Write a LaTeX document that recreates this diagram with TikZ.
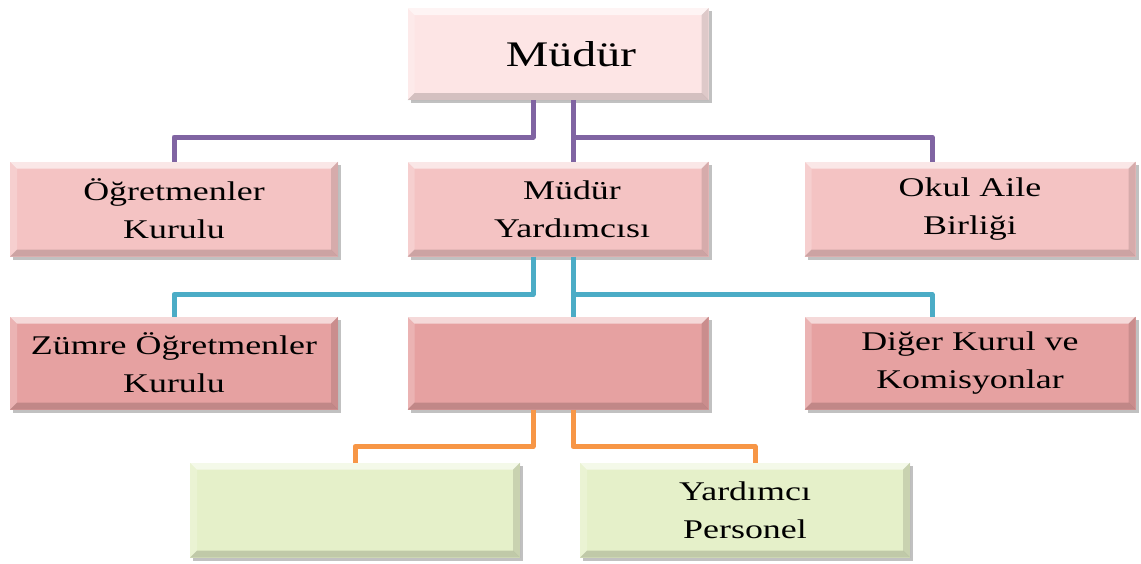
\documentclass[tikz,border=0pt]{standalone}
\usepackage{fontspec}
\setmainfont{Liberation Serif}[FakeStretch=1.33]
\usetikzlibrary{shadows}
\definecolor{cTop}{HTML}{FDE5E5}
\definecolor{cMid}{HTML}{F4C3C3}
\definecolor{cLow}{HTML}{E6A1A1}
\definecolor{cGrn}{HTML}{E5F0C9}
\definecolor{cPur}{HTML}{8064A2}
\definecolor{cCya}{HTML}{4BACC6}
\definecolor{cOrg}{HTML}{F79646}
\tikzset{
  orgbox/.style={rectangle, inner sep=0pt, outer sep=0pt, align=center,
    font=\fontsize{27}{38}\selectfont,
    drop shadow={shadow xshift=3pt, shadow yshift=-3pt, opacity=.35, fill=black!70},
    path picture={
      \fill[white,opacity=.6] (path picture bounding box.north west) -- (path picture bounding box.north east)
        -- ([shift={(-7pt,-7pt)}]path picture bounding box.north east) -- ([shift={(7pt,-7pt)}]path picture bounding box.north west) -- cycle;
      \fill[white,opacity=.2] (path picture bounding box.north west) -- ([shift={(7pt,-7pt)}]path picture bounding box.north west)
        -- ([shift={(7pt,7pt)}]path picture bounding box.south west) -- (path picture bounding box.south west) -- cycle;
      \fill[black,opacity=.12] (path picture bounding box.north east) -- (path picture bounding box.south east)
        -- ([shift={(-7pt,7pt)}]path picture bounding box.south east) -- ([shift={(-7pt,-7pt)}]path picture bounding box.north east) -- cycle;
      \fill[black,opacity=.16] (path picture bounding box.south west) -- (path picture bounding box.south east)
        -- ([shift={(-7pt,7pt)}]path picture bounding box.south east) -- ([shift={(7pt,7pt)}]path picture bounding box.south west) -- cycle;
    }},
  conn/.style={line width=5pt, line join=round},
  purp/.style={conn, draw=cPur},
  cyan/.style={conn, draw=cCya},
  oran/.style={conn, draw=cOrg}
}
\begin{document}
\begin{tikzpicture}[x=1pt,y=-1pt]
\useasboundingbox (0,0) rectangle (1141,563);
% boxes
\node[orgbox, fill=cTop, minimum width=301pt, minimum height=92pt, font=\fontsize{36}{40}\selectfont] (mudur) at (558,54) {\hspace*{26pt}Müdür};
\node[orgbox, fill=cMid, minimum width=328pt, minimum height=95pt] (ogr) at (174,209) {Öğretmenler\\Kurulu};
\node[orgbox, fill=cMid, minimum width=301pt, minimum height=95pt] (my) at (558,209) {\hspace*{28pt}Müdür\\\hspace*{28pt}Yardımcısı};
\node[orgbox, fill=cMid, minimum width=331pt, minimum height=95pt] (okul) at (970,209) {Okul Aile\\Birliği};
\node[orgbox, fill=cLow, minimum width=328pt, minimum height=93pt] (zumre) at (174,363) {Zümre Öğretmenler\\Kurulu};
\node[orgbox, fill=cLow, minimum width=301pt, minimum height=93pt] (mid) at (558,363) {};
\node[orgbox, fill=cLow, minimum width=331pt, minimum height=93pt] (diger) at (970,363) {Diğer Kurul ve\\Komisyonlar};
\node[orgbox, fill=cGrn, minimum width=330pt, minimum height=95pt] (g1) at (355,510) {};
\node[orgbox, fill=cGrn, minimum width=330pt, minimum height=95pt] (g2) at (745,510) {Yardımcı\\Personel};
% connectors
\draw[purp] ([xshift=-25pt]mudur.south) -- ++(0,37) -| (ogr.north);
\draw[purp] ([xshift=15pt]mudur.south) -- ([xshift=15pt]my.north);
\draw[purp] ([xshift=15pt,yshift=-37pt]mudur.south) -| ([xshift=-38pt]okul.north);
\draw[cyan] ([xshift=-25pt]my.south) -- ++(0,38) -| (zumre.north);
\draw[cyan] ([xshift=15pt]my.south) -- ([xshift=15pt]mid.north);
\draw[cyan] ([xshift=15pt,yshift=-38pt]my.south) -| ([xshift=-38pt]diger.north);
\draw[oran] ([xshift=-25pt]mid.south) -- ++(0,37) -| (g1.north);
\draw[oran] ([xshift=15pt]mid.south) -- ++(0,37) -| ([xshift=10pt]g2.north);
\end{tikzpicture}
\end{document}
